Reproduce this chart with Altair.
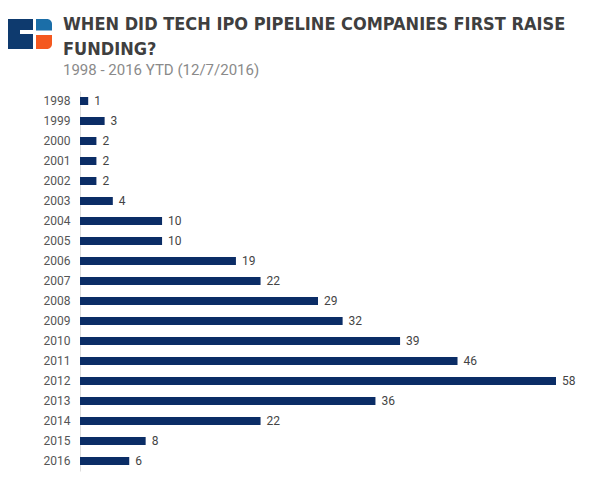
import altair as alt
import pandas as pd

years = ["1998", "1999", "2000", "2001", "2002", "2003", "2004", "2005", "2006",
         "2007", "2008", "2009", "2010", "2011", "2012", "2013", "2014", "2015", "2016"]
counts = [1, 3, 2, 2, 2, 4, 10, 10, 19, 22, 29, 32, 39, 46, 58, 36, 22, 8, 6]

title_lines = ["WHEN DID TECH IPO PIPELINE COMPANIES FIRST RAISE", "FUNDING?"]
subtitle = "1998 - 2016 YTD (12/7/2016)"

df = pd.DataFrame({"year": years, "count": counts})

W, H = 476, 380
NAVY = "#0b2d66"
TFONT = "DejaVu Sans Condensed"

base = alt.Chart(df)

y_enc = alt.Y("year:N", sort=years, title=None,
              scale=alt.Scale(paddingInner=0.6, paddingOuter=0.3),
              axis=alt.Axis(ticks=False, domainColor="#dddddd", labelColor="#555555",
                            labelFontSize=12, labelFont="Roboto", labelPadding=10))
x_enc = alt.X("count:Q", title=None, scale=alt.Scale(domain=[0, 58], nice=False),
              axis=None)

bars = base.mark_bar(color=NAVY).encode(x=x_enc, y=y_enc)
labels = base.mark_text(align="left", baseline="middle", dx=6, font="Roboto",
                        fontSize=12, color="#444444").encode(
    x=x_enc, y=alt.Y("year:N", sort=years), text="count:Q")

# header texts
one = alt.Chart(pd.DataFrame({"k": [0]}))
t1 = one.mark_text(align="left", baseline="alphabetic", font=TFONT,
                   fontSize=18, fontWeight="bold", color="#3f3f3f").encode(
    x=alt.value(-17), y=alt.value(-61), text=alt.value(title_lines[0]))
t2 = one.mark_text(align="left", baseline="alphabetic", font=TFONT,
                   fontSize=18, fontWeight="bold", color="#3f3f3f").encode(
    x=alt.value(-17), y=alt.value(-36), text=alt.value(title_lines[1]))
st = one.mark_text(align="left", baseline="alphabetic", font="Roboto",
                   fontSize=15, color="#8a8a8a").encode(
    x=alt.value(-17), y=alt.value(-16), text=alt.value(subtitle))

# logo (decoration)
navy = one.mark_rect(color="#0e3a6e", cornerRadiusTopLeft=5, cornerRadiusBottomLeft=5).encode(
    x=alt.value(-76), x2=alt.value(-47), y=alt.value(-72), y2=alt.value(-42))
notch = one.mark_rect(color="white").encode(
    x=alt.value(-60), x2=alt.value(-46), y=alt.value(-61), y2=alt.value(-57))
blue = one.mark_rect(color="#1b6ea8", cornerRadiusTopRight=5).encode(
    x=alt.value(-44), x2=alt.value(-28), y=alt.value(-72), y2=alt.value(-60.5))
orange = one.mark_rect(color="#f4581f", cornerRadiusBottomRight=5).encode(
    x=alt.value(-44), x2=alt.value(-28), y=alt.value(-56), y2=alt.value(-42))

chart = alt.layer(bars, labels, t1, t2, st, navy, notch, blue, orange).properties(
    width=W, height=H,
    autosize=alt.AutoSizeParams(type="none"),
    padding={"left": 72, "top": 83, "right": 46, "bottom": 5},
).configure_view(stroke=None)

chart.save("out.html", embed_options={"renderer": "svg", "actions": False})
